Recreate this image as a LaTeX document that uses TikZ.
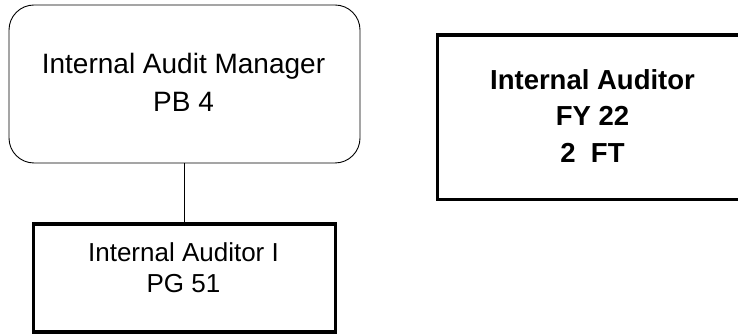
\documentclass[tikz,border=0pt]{standalone}
\usepackage{fontspec}
\setmainfont{Liberation Sans}
\begin{document}
\begin{tikzpicture}[x=1pt,y=1pt,
  boxbase/.style={draw=black, inner sep=0pt, outer sep=0pt, fill=white},
  mgrbox/.style={boxbase, line width=0.9pt, rounded corners=25pt},
  thickbox/.style={boxbase, line width=3.2pt},
  txt/.style={align=center, inner sep=0pt, outer sep=0pt},
  link/.style={draw=black, line width=0.9pt}]
\fill[white] (0,0) rectangle (738,334);
\useasboundingbox (0,0) rectangle (738,334);
% Manager
\node[mgrbox, minimum width=351pt, minimum height=158pt] (mgr) at (184.5,250) {};
\node[txt, font=\fontsize{28}{38}\selectfont] (mgrtxt) at (183.5,251.5) {Internal Audit Manager\\PB 4};
% Internal Auditor I
\node[thickbox, minimum width=302pt, minimum height=108pt] (aud1) at (184.5,56) {};
\node[txt, font=\fontsize{26}{31}\selectfont] (aud1txt) at (183.5,66) {Internal Auditor I\\PG 51};
% Internal Auditor (right)
\node[thickbox, line width=3.5pt, minimum width=310.5pt, minimum height=164.5pt] (aud) at (592.75,216.75) {};
\node[txt, font=\bfseries\fontsize{27.5}{36.5}\selectfont] (audtxt) at (592.5,218) {Internal Auditor\\FY 22\\2\ \ FT};
% connector
\draw[link] (mgr.south) -- (aud1.north);
\end{tikzpicture}
\end{document}
